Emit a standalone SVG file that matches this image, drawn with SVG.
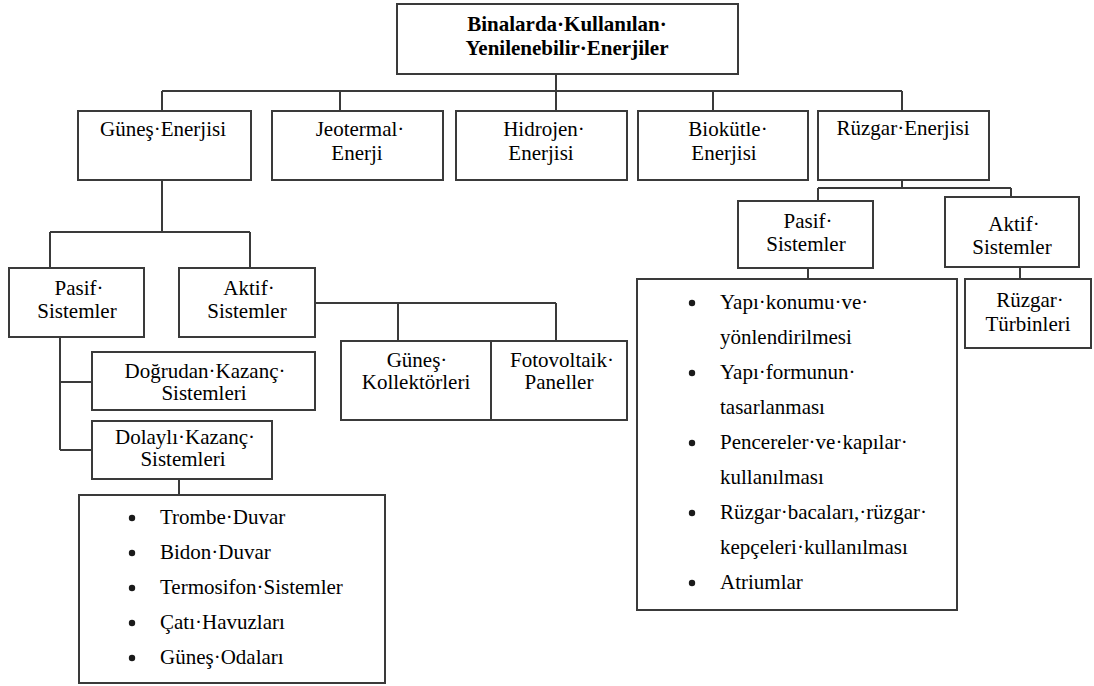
<svg xmlns="http://www.w3.org/2000/svg" width="1094" height="686" viewBox="0 0 1094 686">
<rect width="1094" height="686" fill="#fff"/>
<g id="connectors" fill="none" stroke="#3a3a3a" stroke-width="2">
<path d="M556 74V91M162 91H902M162 91V111M340 91V111M556 91V111M713 91V111M902 91V111"/>
<path d="M162 180V232M50 232H250M50 232V268M250 232V268"/>
<path d="M315 303H556M398 303V341M556 303V341"/>
<path d="M60 337V450M60 382H92M60 450H92M179 479V495"/>
<path d="M902 180V188M818 188H1011M818 188V201M1011 188V197M808 268V279M1020 267V279"/>
</g>
<g id="boxes" fill="#fff" stroke="#3a3a3a" stroke-width="2">
<rect x="397" y="4" width="341" height="70"/>
<rect x="78" y="111" width="173" height="69"/>
<rect x="272" y="111" width="171" height="69"/>
<rect x="456" y="111" width="171" height="69"/>
<rect x="638" y="111" width="170" height="69"/>
<rect x="818" y="111" width="171" height="69"/>
<rect x="9" y="268" width="135" height="69"/>
<rect x="179" y="268" width="136" height="69"/>
<rect x="92" y="352" width="223" height="58"/>
<rect x="92" y="421" width="180" height="58"/>
<rect x="341" y="341" width="150" height="79"/>
<rect x="491" y="341" width="136" height="79"/>
<rect x="79" y="495" width="306" height="188"/>
<rect x="738" y="201" width="135" height="67"/>
<rect x="945" y="197" width="134" height="70"/>
<rect x="965" y="279" width="126" height="69"/>
<rect x="637" y="279" width="320" height="331"/>
</g>
<g id="bullets" fill="#1a1a1a">
<circle cx="132" cy="518" r="3.2"/><circle cx="132" cy="553" r="3.2"/><circle cx="132" cy="588" r="3.2"/><circle cx="132" cy="623" r="3.2"/><circle cx="132" cy="658" r="3.2"/>
<circle cx="692" cy="303" r="3.2"/><circle cx="692" cy="373" r="3.2"/><circle cx="692" cy="443" r="3.2"/><circle cx="692" cy="513" r="3.2"/><circle cx="692" cy="583" r="3.2"/>
</g>
<g id="root"><text font-family="Liberation Serif" font-size="21" font-weight="bold" text-anchor="middle" x="567" y="31">Binalarda·Kullanılan·</text>
<text font-family="Liberation Serif" font-size="21" font-weight="bold" text-anchor="middle" x="567" y="55">Yenilenebilir·Enerjiler</text></g>
<g id="gunes"><text font-family="Liberation Serif" font-size="21" text-anchor="middle" x="163" y="136">Güneş·Enerjisi</text></g>
<g id="jeotermal"><text font-family="Liberation Serif" font-size="21" text-anchor="middle" x="360" y="136">Jeotermal·</text><text font-family="Liberation Serif" font-size="21" text-anchor="middle" x="357" y="160">Enerji</text></g>
<g id="hidrojen"><text font-family="Liberation Serif" font-size="21" text-anchor="middle" x="544" y="136">Hidrojen·</text><text font-family="Liberation Serif" font-size="21" text-anchor="middle" x="541" y="160">Enerjisi</text></g>
<g id="biokutle"><text font-family="Liberation Serif" font-size="21" text-anchor="middle" x="728" y="136">Biokütle·</text><text font-family="Liberation Serif" font-size="21" text-anchor="middle" x="724" y="160">Enerjisi</text></g>
<g id="ruzgar"><text font-family="Liberation Serif" font-size="21" text-anchor="middle" x="903" y="135">Rüzgar·Enerjisi</text></g>
<g id="g-pasif"><text font-family="Liberation Serif" font-size="21" text-anchor="middle" x="79" y="295">Pasif·</text><text font-family="Liberation Serif" font-size="21" text-anchor="middle" x="77" y="318">Sistemler</text></g>
<g id="g-aktif"><text font-family="Liberation Serif" font-size="21" text-anchor="middle" x="249" y="295">Aktif·</text><text font-family="Liberation Serif" font-size="21" text-anchor="middle" x="247" y="318">Sistemler</text></g>
<g id="dogrudan"><text font-family="Liberation Serif" font-size="21" text-anchor="middle" x="205" y="378">Doğrudan·Kazanç·</text><text font-family="Liberation Serif" font-size="21" text-anchor="middle" x="204" y="400">Sistemleri</text></g>
<g id="dolayli"><text font-family="Liberation Serif" font-size="21" text-anchor="middle" x="185" y="444">Dolaylı·Kazanç·</text><text font-family="Liberation Serif" font-size="21" text-anchor="middle" x="183" y="466">Sistemleri</text></g>
<g id="kollektor"><text font-family="Liberation Serif" font-size="21" text-anchor="middle" x="417" y="367">Güneş·</text><text font-family="Liberation Serif" font-size="21" text-anchor="middle" x="416" y="389">Kollektörleri</text></g>
<g id="fotovoltaik"><text font-family="Liberation Serif" font-size="21" text-anchor="middle" x="562" y="367">Fotovoltaik·</text><text font-family="Liberation Serif" font-size="21" text-anchor="middle" x="559" y="389">Paneller</text></g>
<g id="pasif-list"><text font-family="Liberation Serif" font-size="21" x="160" y="524">Trombe·Duvar</text>
<text font-family="Liberation Serif" font-size="21" x="160" y="559">Bidon·Duvar</text>
<text font-family="Liberation Serif" font-size="21" x="160" y="594">Termosifon·Sistemler</text>
<text font-family="Liberation Serif" font-size="21" x="160" y="629">Çatı·Havuzları</text>
<text font-family="Liberation Serif" font-size="21" x="160" y="664">Güneş·Odaları</text></g>
<g id="r-pasif"><text font-family="Liberation Serif" font-size="21" text-anchor="middle" x="808" y="228">Pasif·</text><text font-family="Liberation Serif" font-size="21" text-anchor="middle" x="806" y="251">Sistemler</text></g>
<g id="r-aktif"><text font-family="Liberation Serif" font-size="21" text-anchor="middle" x="1014" y="231">Aktif·</text><text font-family="Liberation Serif" font-size="21" text-anchor="middle" x="1012" y="254">Sistemler</text></g>
<g id="turbin"><text font-family="Liberation Serif" font-size="21" text-anchor="middle" x="1030" y="307">Rüzgar·</text><text font-family="Liberation Serif" font-size="21" text-anchor="middle" x="1028" y="331">Türbinleri</text></g>
<g id="ruzgar-list"><text font-family="Liberation Serif" font-size="21" x="720" y="309">Yapı·konumu·ve·</text>
<text font-family="Liberation Serif" font-size="21" x="720" y="344">yönlendirilmesi</text>
<text font-family="Liberation Serif" font-size="21" x="720" y="379">Yapı·formunun·</text>
<text font-family="Liberation Serif" font-size="21" x="720" y="414">tasarlanması</text>
<text font-family="Liberation Serif" font-size="21" x="720" y="449">Pencereler·ve·kapılar·</text>
<text font-family="Liberation Serif" font-size="21" x="720" y="484">kullanılması</text>
<text font-family="Liberation Serif" font-size="21" x="720" y="519">Rüzgar·bacaları,·rüzgar·</text>
<text font-family="Liberation Serif" font-size="21" x="720" y="554">kepçeleri·kullanılması</text>
<text font-family="Liberation Serif" font-size="21" x="720" y="589">Atriumlar</text></g>
</svg>
